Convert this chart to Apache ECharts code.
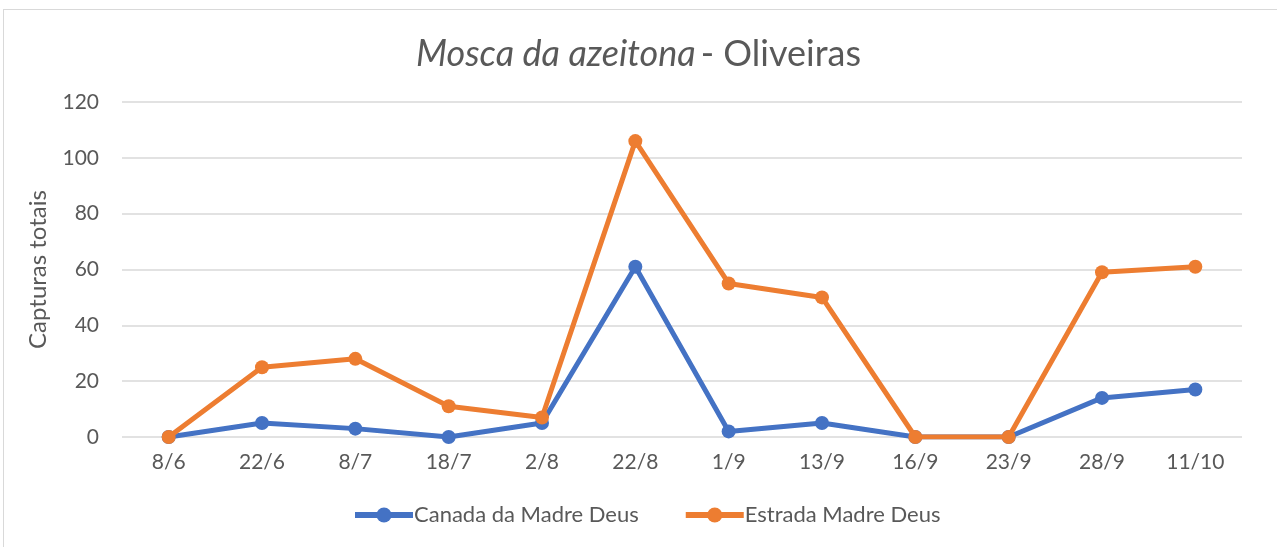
<!DOCTYPE html>
<html>
<head>
<meta charset="utf-8">
<script src="https://cdn.jsdelivr.net/npm/echarts@6/dist/echarts.min.js"></script>
<style>
  html, body { margin: 0; padding: 0; background: #fff; }
  #frame {
    position: absolute; left: 3px; top: 9px; width: 1280px; height: 545px;
    border: 1px solid #d9d9d9; box-sizing: border-box;
  }
  #chart { position: absolute; left: 0; top: 0; width: 1277px; height: 547px; }
</style>
</head>
<body>
<div id="frame"></div>
<div id="chart"></div>
<script>
// sampling dates
const dates = ['8/6', '22/6', '8/7', '18/7', '2/8', '22/8', '1/9', '13/9', '16/9', '23/9', '28/9', '11/10']
// captures per trap
const canada = [0, 5, 3, 0, 5, 61, 2, 5, 0, 0, 14, 17]
const estrada = [0, 25, 28, 11, 7, 106, 55, 50, 0, 0, 59, 61]

const textColor = '#595959'
const font = 'Lato, "Open Sans", sans-serif'

const chart = echarts.init(document.getElementById('chart'))

const lineSeries = (name, data, color) => ({
  name,
  type: 'line',
  data,
  symbol: 'circle',
  symbolSize: 14,
  lineStyle: { width: 5, color },
  itemStyle: { color },
  z: name === 'Estrada Madre Deus' ? 3 : 2,
})

chart.setOption({
  animation: false,
  title: {
    text: '{it|Mosca da azeitona} {n|- Oliveiras}',
    left: 'center',
    top: 31,
    textStyle: {
      fontWeight: 'normal',
      rich: {
        it: { fontStyle: 'italic', fontWeight: 'normal', fontSize: 36, color: textColor, fontFamily: font },
        n: { fontWeight: 'normal', fontSize: 36, color: textColor, fontFamily: font },
      },
    },
  },
  legend: {
    bottom: 16,
    left: 347,
    itemWidth: 58,
    itemHeight: 19,
    itemGap: 44,
    lineStyle: { width: 6 },
    textStyle: { color: textColor, fontSize: 22, fontFamily: font, padding: [0, 0, 0, -4] },
    data: ['Canada da Madre Deus', 'Estrada Madre Deus'],
  },
  grid: { left: 122, right: 35, top: 102, bottom: 110 },
  xAxis: {
    type: 'category',
    data: dates,
    boundaryGap: true,
    axisLine: { show: false },
    axisTick: { show: false },
    axisLabel: { color: textColor, fontSize: 21, fontFamily: font, margin: 15 },
  },
  yAxis: {
    type: 'value',
    min: 0,
    max: 120,
    interval: 20,
    name: 'Capturas totais',
    nameLocation: 'middle',
    nameGap: 72,
    nameTextStyle: { color: textColor, fontSize: 24, fontFamily: font },
    axisLabel: { color: textColor, fontSize: 21, fontFamily: font, margin: 23 },
    splitLine: { lineStyle: { color: '#d9d9d9', width: 1.5 } },
  },
  series: [
    lineSeries('Canada da Madre Deus', canada, '#4472C4'),
    lineSeries('Estrada Madre Deus', estrada, '#ED7D31'),
  ],
})
</script>
</body>
</html>
